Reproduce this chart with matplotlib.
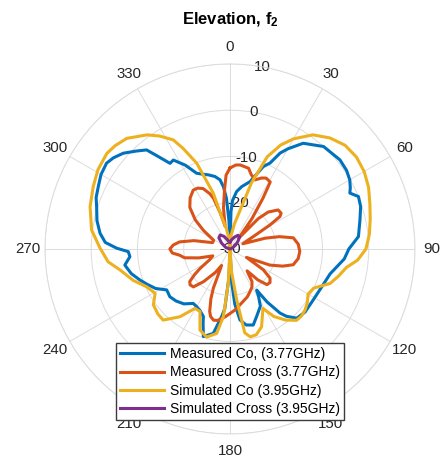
import numpy as np
import matplotlib.pyplot as plt

plt.rcParams['font.family'] = ['Liberation Sans', 'DejaVu Sans']
plt.rcParams['mathtext.fontset'] = 'custom'
plt.rcParams['mathtext.rm'] = 'Liberation Sans'
plt.rcParams['mathtext.bf'] = 'Liberation Sans:bold'

# angles in degrees (clockwise from top), gains in dB
meas_co_ang = [0, 1.5, 3, 6.6, 10.6, 16.6, 22, 25, 27.6, 30, 34.7, 42.4, 51, 56, 60, 63,
               65, 67.8, 72, 77.4, 84.5, 90, 95, 104, 112, 121.5, 130, 136, 140, 142,
               145, 147, 149, 152, 158.5, 163, 168, 172, 175, 177, 180,
               182, 185, 187, 191.2, 196.9, 200, 201.5, 206, 210, 214, 220, 226,
               231.5, 237.1, 242, 247, 251, 256, 261.3, 265.6, 268.5, 270.4, 273,
               276.9, 282, 287.6, 291, 295.3, 300, 304.8, 308, 311.9, 316, 319.9,
               322, 325, 327.5, 332, 336.2, 340, 343.7, 348.3, 351.8, 354, 356, 358]
meas_co_db = [-30, -22, -19.5, -17.5, -16.3, -14.8, -10.8, -9.5, -6.6, -5, -2.2, 0, 0.6, 0.4,
              -0.1, -0.8, -1.4, 0, -0.3, -1.2, -2.1, -4.3, -5.2, -7.7, -8.5, -8.9, -8.8,
              -9.2, -11, -12.4, -16, -19.4, -18, -16, -14.3, -12.8, -13.2, -14.5, -18,
              -22.6, -30,
              -24, -17, -15.3, -11.4, -10.2, -13, -14.3, -15.2, -15.6, -15.8, -14.5,
              -13.8, -13.4, -13.7, -11.8, -10.5, -9.4, -8.0, -7.0, -8.3, -8.0, -5.5,
              -3, -1.7, -0.6, 0.25, 1.0, 1.5, 2.2, 2.5, 2.0, 1.0, -0.6, -2.0, -4.5,
              -7.4, -7.2, -9.5, -12.1, -12.8, -13.3, -14, -14.9, -16.5, -19, -24]

meas_x_ang = [0, 4, 7, 13, 16, 20, 24, 27, 31, 33, 36, 39, 43, 46, 51, 55, 57, 59, 63, 68,
              73, 76, 80, 86, 92, 98, 104, 108, 112, 117, 122, 126, 130, 134, 138, 142,
              146, 150, 155, 160, 166, 175, 184, 190, 193, 196, 198, 201, 203, 207, 212,
              219, 224, 228, 231, 234, 237, 242, 248, 254, 259, 263, 266, 270, 274, 278,
              283, 290, 298, 305, 310, 316, 322, 328, 332, 336, 340, 342, 345, 348, 351,
              355, 357]
meas_x_db = [-12.5, -11.8, -11.7, -12.1, -13.3, -14.1, -13.2, -12.8, -13.1, -16.9, -22, -27,
             -21, -18.5, -16.6, -16.5, -17.1, -19.9, -25, -27, -22, -19, -16.1, -15.2,
             -14.9, -15.1, -15.9, -18, -20.7, -26, -21.5, -19.3, -18.7, -18.9, -21, -24,
             -21.5, -20.5, -19.8, -19, -18.3, -16.8, -15.3, -14.3, -14.2, -14.8, -15.8,
             -18.5, -20.8, -26, -24, -20.9, -18.6, -18.4, -18.8, -20.5, -22.3, -25, -26,
             -23, -20, -19, -17.5, -17, -17.7, -19, -22, -26, -26, -23, -20.2, -17.5,
             -16, -15, -15.1, -15.7, -17.3, -18.5, -22, -25, -21, -16.8, -14]

sim_co_ang = [0, 5, 10, 14, 18, 22, 26, 30, 36, 42, 48, 54, 60, 66, 72, 78, 84, 90, 95, 99,
              104, 109, 115, 120, 125, 129, 133, 137, 142, 147, 151, 154, 158, 163, 167,
              170, 172.5, 176, 180,
              182.8, 185.6, 189, 194.8, 200.3, 205.6, 210.5, 216.4, 223.2, 228, 233.9,
              239.4, 245.7, 252, 259.2, 264, 270.4, 277.8, 286.8, 294.5, 301, 307.8, 312,
              317, 324, 328, 332.5, 335, 338.8, 343.3, 345.5, 350, 355]
sim_co_db = [-30, -27, -24.5, -22, -15, -8.5, -5, -2.5, 0.5, 2.3, 3.5, 3.8, 3.5, 2.8, 1.8,
             1.0, 0.3, -0.6, -2.3, -4.5, -5.8, -7.1, -10.0, -10.5, -9.6, -9.1, -8.8, -8.9,
             -10.5, -12.6, -15.3, -14, -11.8, -10.6, -10.5, -11.6, -18.9, -25, -30,
             -22.6, -15.3, -11.5, -10.3, -11.3, -15, -15.1, -11.8, -8.9, -9.0, -9.5,
             -11.2, -10.2, -8, -5.8, -3.5, -1.9, 0.2, 1.6, 2.5, 3.3, 3.7, 3.4, 2.7, 0.5,
             -1.2, -3.4, -6, -10.1, -17.4, -22.8, -25.5, -28]

sim_x_ang = [0, 10, 20, 30, 38, 45, 55, 70, 90, 120, 180, 240, 270, 290, 305, 315, 325,
             335, 345, 355]
sim_x_db = [-28.5, -28, -27.3, -26.6, -26.6, -27.5, -28.5, -29.5, -30, -30, -30, -30, -30,
            -29, -27.8, -26.6, -26.3, -27, -28, -28.6]

series = [
    (meas_co_ang, meas_co_db, '#0072BD', 'Measured Co, (3.77GHz)'),
    (meas_x_ang, meas_x_db, '#D95319', 'Measured Cross (3.77GHz)'),
    (sim_co_ang, sim_co_db, '#EDB120', 'Simulated Co (3.95GHz)'),
    (sim_x_ang, sim_x_db, '#7E2F8E', 'Simulated Cross (3.95GHz)'),
]

r_min, r_max = -30, 10

fig = plt.figure(figsize=(4.41, 4.58), dpi=100)
ax = fig.add_axes([0.102, 0.0524, 0.839, 0.808], projection='polar')
ax.set_theta_zero_location('N')
ax.set_theta_direction(-1)

for ang, db, col, lab in series:
    th = np.deg2rad(ang + ang[:1])
    r = np.clip(db + db[:1], r_min, r_max)
    ax.plot(th, r, color=col, lw=2.2, label=lab)

ax.set_rlim(r_min, r_max)
ax.set_rticks([-30, -20, -10, 0, 10])
ax.set_yticklabels(['-30', '-20', '-10', '0', '10'])
ax.set_rlabel_position(10)
ax.set_thetagrids(np.arange(0, 360, 30), [str(a) for a in range(0, 360, 30)])
ax.tick_params(axis='x', labelsize=10.8, pad=1.5, colors='#262626')
ax.tick_params(axis='y', labelsize=10.8, pad=0, colors='#262626')
for t in ax.yaxis.get_major_ticks():
    t.label1.set_ha('center')
    t.label1.set_va('center')
ax.grid(color='#dcdcdc', lw=0.7)
ax.spines['polar'].set_color('#dcdcdc')
ax.spines['polar'].set_linewidth(0.7)
ax.set_axisbelow(True)

fig.text(0.523, 0.948, r'Elevation, $\mathbf{f_2}$', ha='center', va='baseline',
         fontsize=12, fontweight='bold')

ax.legend(loc='center', bbox_to_anchor=(0.5215, 0.167), bbox_transform=fig.transFigure,
          fancybox=False, edgecolor='#3c3c3c', framealpha=1, fontsize=10,
          handlelength=3.2, labelspacing=0.3, borderpad=0.3, handletextpad=0.4,
          borderaxespad=0)

fig.savefig('out.png', dpi=100)
